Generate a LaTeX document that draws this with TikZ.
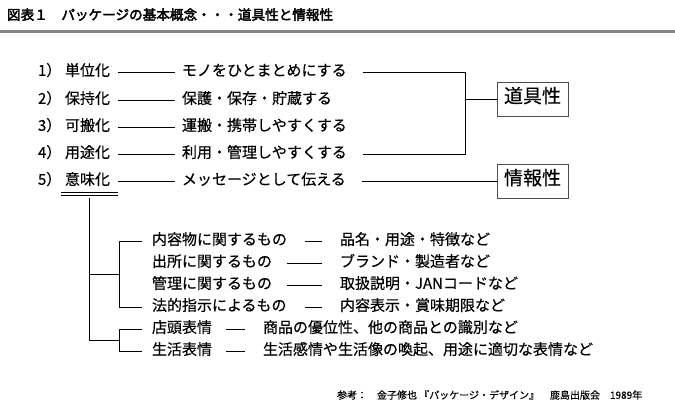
\documentclass[tikz,border=0pt]{standalone}
\usepackage{fontspec}
\setmainfont{Noto Sans CJK JP}[FakeBold=0.4]
\newfontfamily\jpbold[FakeBold=2.8]{Noto Sans CJK JP}
\begin{document}
\begin{tikzpicture}[x=1pt,y=-1pt,
  every node/.style={inner sep=0pt, outer sep=0pt, text=black,
    font=\fontsize{15}{15}\selectfont, text height=0.88em, text depth=0.12em},
  item/.style={anchor=west},
  ln/.style={line width=0.9pt, draw=black},
  box/.style={draw=black!70, line width=0.9pt, minimum width=71pt, minimum height=34pt,
    font=\fontsize{19}{19}\selectfont},
  foot/.style={anchor=west, font=\fontsize{10}{10}\selectfont}]
\useasboundingbox (0,0) rectangle (675,415);
% title
\node[item, font=\jpbold\fontsize{13.6}{13.6}\selectfont] (title) at (7,16) {図表１　パッケージの基本概念・・・道具性と情報性};
\draw[line width=3pt, draw=black!48] (0,31.5) -- (675,31.5);
% main rows
\node[item] (n1) at (38,72) {1）};
\node[item] (l1) at (65,72) {単位化};
\node[item] (t1) at (182,72) {モノをひとまとめにする};
\node[item] (n2) at (38,100) {2）};
\node[item] (l2) at (65,100) {保持化};
\node[item] (t2) at (182,100) {保護・保存・貯蔵する};
\node[item] (n3) at (38,127) {3）};
\node[item] (l3) at (65,127) {可搬化};
\node[item] (t3) at (182,127) {運搬・携帯しやすくする};
\node[item] (n4) at (38,154) {4）};
\node[item] (l4) at (65,154) {用途化};
\node[item] (t4) at (182,154) {利用・管理しやすくする};
\node[item] (n5) at (38,181) {5）};
\node[item] (l5) at (65,181) {意味化};
\node[item] (t5) at (182,181) {メッセージとして伝える};
\foreach \i in {1,...,5}{
  \draw[ln] ([xshift=8pt]l\i.east) -- ([xshift=-7pt]t\i.west);
}
% boxes
\node[box] (b1) at (532.5,99) {道具性};
\node[box] (b2) at (532.5,181) {情報性};
\coordinate (j) at (465,99);
\draw[ln] ([xshift=16pt]t1.east) -| (j);
\draw[ln] ([xshift=16pt]t4.east) -| (j);
\draw[ln] (j) -- (b1.west);
\draw[ln] ([xshift=16pt]t5.east) -- (b2.west);
% double underline
\draw[ln] ([xshift=-4pt,yshift=-6.5pt]l5.south west) -- ([xshift=8pt,yshift=-6.5pt]l5.south east);
\draw[ln] ([xshift=-4pt,yshift=-9.5pt]l5.south west) -- ([xshift=8pt,yshift=-9.5pt]l5.south east);
\coordinate (r) at (89,198);
\coordinate (g1) at (119,274);
\coordinate (g2) at (119,340);
% sub rows
\node[item] (s1) at (152,241) {内容物に関するもの};
\node[item] (d1) at (340,241) {品名・用途・特徴など};
\node[item] (s2) at (152,263) {出所に関するもの};
\node[item] (d2) at (340,263) {ブランド・製造者など};
\node[item] (s3) at (152,285) {管理に関するもの};
\node[item] (d3) at (340,285) {取扱説明・JANコードなど};
\node[item] (s4) at (152,307) {法的指示によるもの};
\node[item] (d4) at (340,307) {内容表示・賞味期限など};
\node[item] (s5) at (152,329) {店頭表情};
\node[item] (d5) at (263,329) {商品の優位性、他の商品との識別など};
\node[item] (s6) at (152,351) {生活表情};
\node[item] (d6) at (263,351) {生活感情や生活像の喚起、用途に適切な表情など};
% tree
\draw[ln] (r) |- (g1);
\draw[ln] (r) |- (g2);
\draw[ln] ([xshift=-10pt]s1.west) -| (g1);
\draw[ln] ([xshift=-10pt]s4.west) -| (g1);
\draw[ln] ([xshift=-10pt]s5.west) -| (g2);
\draw[ln] ([xshift=-10pt]s6.west) -| (g2);
% dashes
\draw[ln] ([xshift=18pt]s1.east) -- ([xshift=-18pt]d1.west);
\draw[ln] ([xshift=15pt]s2.east) -- ([xshift=-18pt]d2.west);
\draw[ln] ([xshift=15pt]s3.east) -- ([xshift=-18pt]d3.west);
\draw[ln] ([xshift=18pt]s4.east) -- ([xshift=-18pt]d4.west);
\draw[ln] ([xshift=14pt]s5.east) -- ([xshift=-18pt]d5.west);
\draw[ln] ([xshift=14pt]s6.east) -- ([xshift=-18pt]d6.west);
% footer
\node[foot] (f1) at (337,395) {参考：};
\node[foot] (f2) at (377,395) {金子修也 『パッケージ・デザイン』};
\node[foot] (f3) at (550,395) {鹿島出版会};
\node[foot] (f4) at (610,395) {1989年};
\end{tikzpicture}
\end{document}
